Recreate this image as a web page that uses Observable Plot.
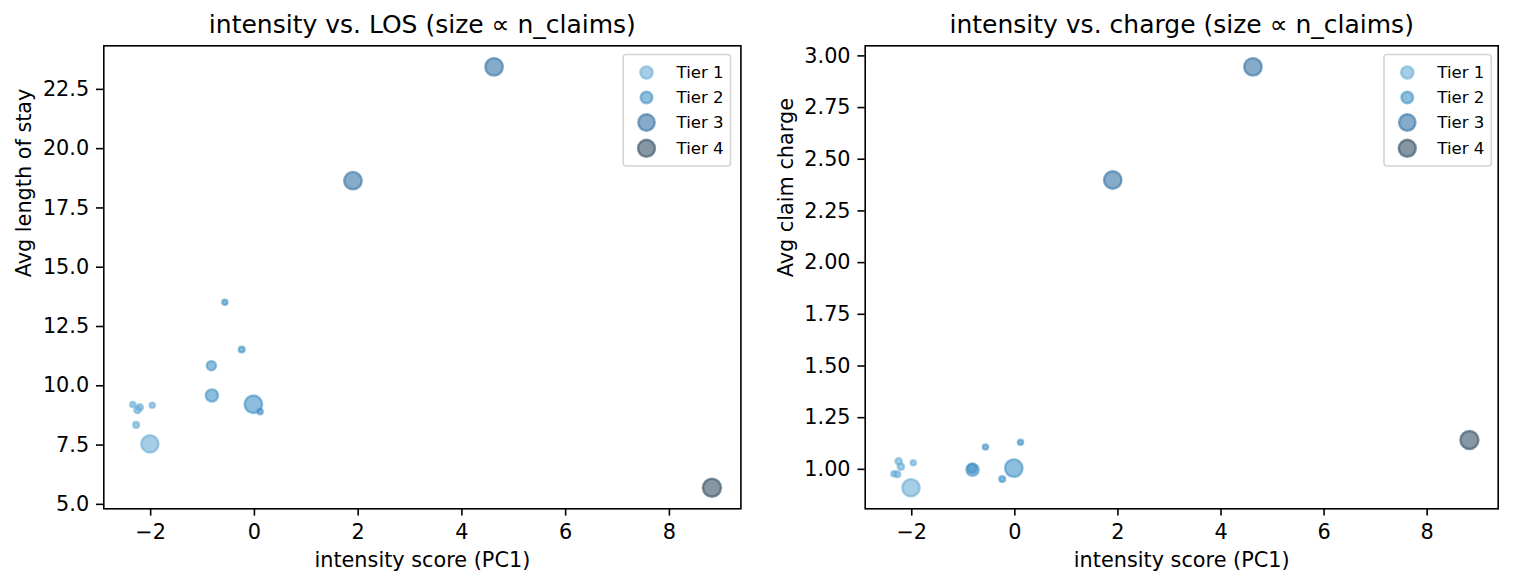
<!DOCTYPE html>
<html>
<head>
<meta charset="utf-8">
<script src="https://cdn.jsdelivr.net/npm/d3@7"></script>
<script src="https://cdn.jsdelivr.net/npm/@observablehq/plot@0.6"></script>
<style>
  html, body { margin: 0; padding: 0; background: white; }
  #chart { display: flex; width: 1514px; height: 586px; }
</style>
</head>
<body>
<div id="chart"></div>
<script>
// ---- data ----
const tiers = ["Tier 1", "Tier 2", "Tier 3", "Tier 4"];
const tierColors = ["#6baed6", "#4292c6", "#3573a5", "#355267"];

const pointTier = ["Tier 1","Tier 1","Tier 1","Tier 1","Tier 1","Tier 1",
                   "Tier 2","Tier 2","Tier 2","Tier 2","Tier 2","Tier 2",
                   "Tier 3","Tier 3","Tier 4"];
const intensity = [-2.345, -2.21, -2.255, -1.97, -2.28, -2.015,
                   -0.57, -0.245, -0.83, -0.82, -0.02, 0.11,
                   1.90, 4.62, 8.82];
const avgLOS    = [9.21, 9.09, 8.98, 9.18, 8.35, 7.55,
                   13.52, 11.53, 10.85, 9.59, 9.22, 8.91,
                   18.65, 23.45, 5.70];
const avgCharge = [0.979, 1.013, 1.039, 1.032, 0.976, 0.911,
                   1.108, 0.953, 1.005, 0.998, 1.006, 1.131,
                   2.40, 2.947, 1.142];
const nClaims   = [80, 120, 120, 80, 100, 900,
                   80, 100, 250, 450, 925, 80,
                   925, 925, 990];

const xTicks = [-2, 0, 2, 4, 6, 8];
const losTicks = [5.0, 7.5, 10.0, 12.5, 15.0, 17.5, 20.0, 22.5];
const chargeTicks = [1.00, 1.25, 1.50, 1.75, 2.00, 2.25, 2.50, 2.75, 3.00];

const points = intensity.map((x, i) => ({
  tier: pointTier[i], x, los: avgLOS[i], charge: avgCharge[i], n: nClaims[i]
}));

// ---- helpers ----
function padded(values) {
  const [lo, hi] = d3.extent(values);
  const m = (hi - lo) * 0.05;
  return [lo - m, hi + m];
}

const FONT = "DejaVu Sans";
const TICK = 20.8;

function panel({yKey, yTicks, yFmt, title, yLabel, marginLeft, marginRight, legendShift}) {
  const legendR = [7.3, 7.0, 9.4, 9.7];
  const legendDy = [26.7, 51.7, 76.7, 102.5];
  const legendMarks = [];
  tiers.forEach((t, i) => {
    legendMarks.push(Plot.dot([t], {
      frameAnchor: "top-right", dx: -94.4 + legendShift, dy: legendDy[i],
      r: legendR[i] - 1.2, fill: tierColors[i], stroke: tierColors[i],
      fillOpacity: 0.6, strokeOpacity: 0.6, strokeWidth: 2.4
    }));
    legendMarks.push(Plot.text([t], {
      frameAnchor: "top-right", dx: -64.4 + legendShift, dy: legendDy[i],
      text: d => d, textAnchor: "start", lineAnchor: "middle",
      fontSize: 16.6, fill: "black"
    }));
  });
  const frameW = 757 - marginLeft - marginRight;
  return Plot.plot({
    width: 757,
    height: 586,
    marginLeft, marginRight,
    marginTop: 45.3,
    marginBottom: 586 - 508.3,
    style: {fontFamily: FONT, fontSize: TICK + "px", color: "black", background: "white", overflow: "visible"},
    x: {domain: padded(intensity)},
    y: {domain: padded(points.map(d => d[yKey]))},
    r: {type: "sqrt", domain: [0, 1000], range: [0, 9.1]},
    color: {domain: tiers, range: tierColors},
    marks: [
      Plot.axisX({ticks: xTicks, tickSize: 7.3, tickPadding: 8, strokeWidth: 1.6,
                  fontSize: TICK, label: null, tickFormat: d3.format("d")}),
      Plot.axisY({ticks: yTicks, tickSize: 7.3, tickPadding: 7.3, strokeWidth: 1.6,
                  fontSize: TICK, label: null, tickFormat: d3.format(yFmt)}),
      Plot.dot(points, {x: "x", y: yKey, r: "n", fill: "tier", stroke: "tier",
                        fillOpacity: 0.6, strokeOpacity: 0.6, strokeWidth: 2.4}),
      Plot.frame({stroke: "black", strokeWidth: 1.6}),
      Plot.frame({
        insetLeft: frameW - 117.7 + legendShift, insetRight: 10.4 - legendShift,
        insetTop: 8.7, insetBottom: 508.3 - 165.5,
        rx: 3, fill: "white", fillOpacity: 0.8, stroke: "#d4d4d4", strokeWidth: 1.6
      }),
      ...legendMarks,
      Plot.text([title], {frameAnchor: "top", dy: -12.5, lineAnchor: "bottom",
                          fontSize: 25, fill: "black", text: d => d}),
      Plot.text(["intensity score (PC1)"], {frameAnchor: "bottom", dy: 58.4, lineAnchor: "bottom",
                          fontSize: TICK, fill: "black", text: d => d}),
      Plot.text([yLabel], {frameAnchor: "left", dx: -79.3, rotate: -90, lineAnchor: "middle",
                          fontSize: TICK, fill: "black", text: d => d})
    ]
  });
}

const chart = document.getElementById("chart");
chart.append(panel({
  yKey: "los", yTicks: losTicks, yFmt: ".1f",
  title: "intensity vs. LOS (size ∝ n_claims)", yLabel: "Avg length of stay",
  marginLeft: 103.3, marginRight: 757 - 740.4, legendShift: 0
}));
chart.append(panel({
  yKey: "charge", yTicks: chargeTicks, yFmt: ".2f",
  title: "intensity vs. charge (size ∝ n_claims)", yLabel: "Avg claim charge",
  marginLeft: 864.7 - 757, marginRight: 757 - (1497.7 - 757), legendShift: 3.5
}));
</script>
</body>
</html>
